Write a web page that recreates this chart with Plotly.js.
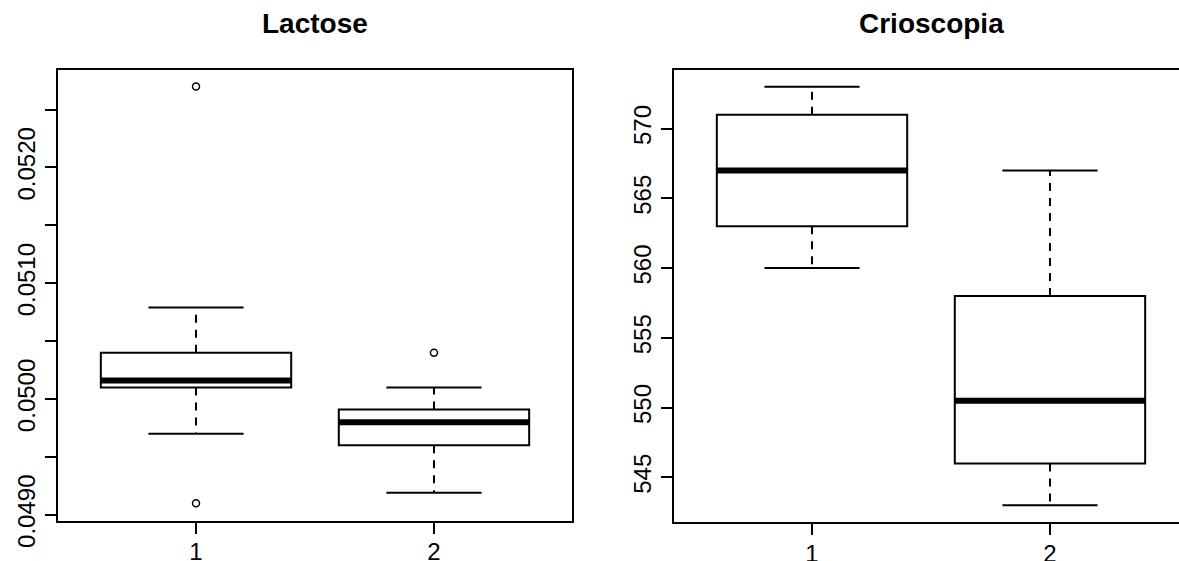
<!DOCTYPE html>
<html>
<head>
<meta charset="utf-8">
<script src="https://cdn.plot.ly/plotly-3.0.1.min.js"></script>
<style>
html,body{margin:0;padding:0;overflow:hidden;background:#fff;}
#chart{width:1190px;height:561px;}
</style>
</head>
<body>
<div id="chart"></div>
<script>
// ---- data ----
const groups = [1, 2];
const groupLabels = ['1', '2'];

// Lactose
const lacQ1  = [0.05010, 0.04960];
const lacMed = [0.05016, 0.04980];
const lacQ3  = [0.05040, 0.04991];
const lacLo  = [0.04970, 0.04919];
const lacHi  = [0.05079, 0.05010];
const lacOutX = [1, 1, 2];
const lacOutY = [0.05270, 0.04910, 0.05040];
const lacTickVals = [0.0490, 0.0495, 0.0500, 0.0505, 0.0510, 0.0515, 0.0520, 0.0525];
const lacTickText = ['0.0490', '', '0.0500', '', '0.0510', '', '0.0520', ''];

// Crioscopia
const crQ1  = [563, 546];
const crMed = [567, 550.5];
const crQ3  = [571, 558];
const crLo  = [560, 543];
const crHi  = [573, 567];
const crOutX = [];
const crOutY = [];
const crTickVals = [545, 550, 555, 560, 565, 570];
const crTickText = ['545', '550', '555', '560', '565', '570'];

const titles = ['Lactose', 'Crioscopia'];

// ---- styling ----
const FONT = 'Liberation Sans, Arial, sans-serif';
const BOXW = 0.8, CAPW = 0.4;

function panelTraces(q1, med, q3, lo, hi, outX, outY, xa, ya) {
  const tr = [];
  tr.push({
    type: 'box', x: groups, q1: q1, median: med, q3: q3,
    lowerfence: q1, upperfence: q3, width: BOXW,
    fillcolor: '#ffffff', line: {color: '#000', width: 2},
    boxpoints: false, whiskerwidth: 0, hoverinfo: 'skip',
    xaxis: xa, yaxis: ya, showlegend: false
  });
  const wx = [], wy = [];
  const cx = [], cy = [];
  const mx = [], my = [];
  groups.forEach((g, i) => {
    wx.push(g, g, null, g, g, null);
    wy.push(q3[i], hi[i], null, q1[i], lo[i], null);
    cx.push(g - CAPW / 2, g + CAPW / 2, null, g - CAPW / 2, g + CAPW / 2, null);
    cy.push(hi[i], hi[i], null, lo[i], lo[i], null);
    mx.push(g - BOXW / 2, g + BOXW / 2, null);
    my.push(med[i], med[i], null);
  });
  tr.push({type: 'scatter', mode: 'lines', x: wx, y: wy, line: {color: '#000', width: 2, dash: '8px,7px'},
           xaxis: xa, yaxis: ya, showlegend: false, hoverinfo: 'skip', connectgaps: false});
  tr.push({type: 'scatter', mode: 'lines', x: cx, y: cy, line: {color: '#000', width: 2},
           xaxis: xa, yaxis: ya, showlegend: false, hoverinfo: 'skip', connectgaps: false});
  tr.push({type: 'scatter', mode: 'lines', x: mx, y: my, line: {color: '#000', width: 6},
           xaxis: xa, yaxis: ya, showlegend: false, hoverinfo: 'skip', connectgaps: false});
  if (outX.length) {
    tr.push({type: 'scatter', mode: 'markers', x: outX, y: outY,
             marker: {symbol: 'circle-open', size: 7, color: '#000', line: {width: 1.5, color: '#000'}},
             xaxis: xa, yaxis: ya, showlegend: false, hoverinfo: 'skip'});
  }
  return tr;
}

const data = [].concat(
  panelTraces(lacQ1, lacMed, lacQ3, lacLo, lacHi, lacOutX, lacOutY, 'x', 'y'),
  panelTraces(crQ1, crMed, crQ3, crLo, crHi, crOutX, crOutY, 'x2', 'y2')
);

const W = 1190, H = 561;
function xAxis(dom) {
  return {
    domain: dom, range: [0.42, 2.58], tickmode: 'array', tickvals: groups, ticktext: groupLabels,
    ticks: 'outside', ticklen: 11, tickwidth: 2, tickcolor: '#000', ticklabelstandoff: -2,
    showline: true, linewidth: 2, linecolor: '#000', mirror: true,
    showgrid: false, zeroline: false, fixedrange: true,
    tickfont: {family: FONT, size: 24, color: '#000'}
  };
}
function yAxis(dom, rng, tv, tt) {
  return {
    domain: dom, range: rng, tickmode: 'array', tickvals: tv, ticktext: tt,
    ticks: 'outside', ticklen: 11, tickwidth: 2, tickcolor: '#000', tickangle: -90,
    showline: true, linewidth: 2, linecolor: '#000', mirror: true,
    showgrid: false, zeroline: false, fixedrange: true,
    tickfont: {family: FONT, size: 24, color: '#000'}
  };
}

const x1 = [58 / W, 572 / W], x2 = [674 / W, 1188 / W];
const y1 = [1 - 520.5 / H, 1 - 69.5 / H], y2 = [1 - 522 / H, 1 - 70 / H];

const layout = {
  width: W, height: H,
  margin: {l: 0, r: 0, t: 0, b: 0},
  paper_bgcolor: '#fff', plot_bgcolor: '#fff',
  showlegend: false,
  xaxis: xAxis(x1),
  yaxis: yAxis(y1, [0.048951, 0.052846], lacTickVals, lacTickText),
  xaxis2: Object.assign(xAxis(x2), {anchor: 'y2'}),
  yaxis2: Object.assign(yAxis(y2, [541.8, 574.2], crTickVals, crTickText), {anchor: 'x2'}),
  annotations: [
    {text: '<b>' + titles[0] + '</b>', xref: 'paper', yref: 'paper', x: (x1[0] + x1[1]) / 2, y: 1 - 24 / H,
     xanchor: 'center', yanchor: 'middle', showarrow: false, font: {family: FONT, size: 28, color: '#000'}},
    {text: '<b>' + titles[1] + '</b>', xref: 'paper', yref: 'paper', x: (x2[0] + x2[1]) / 2, y: 1 - 24 / H,
     xanchor: 'center', yanchor: 'middle', showarrow: false, font: {family: FONT, size: 28, color: '#000'}}
  ]
};
layout.xaxis.anchor = 'y';
layout.yaxis.anchor = 'x';

Plotly.newPlot('chart', data, layout, {displayModeBar: false, staticPlot: true});
</script>
</body>
</html>
